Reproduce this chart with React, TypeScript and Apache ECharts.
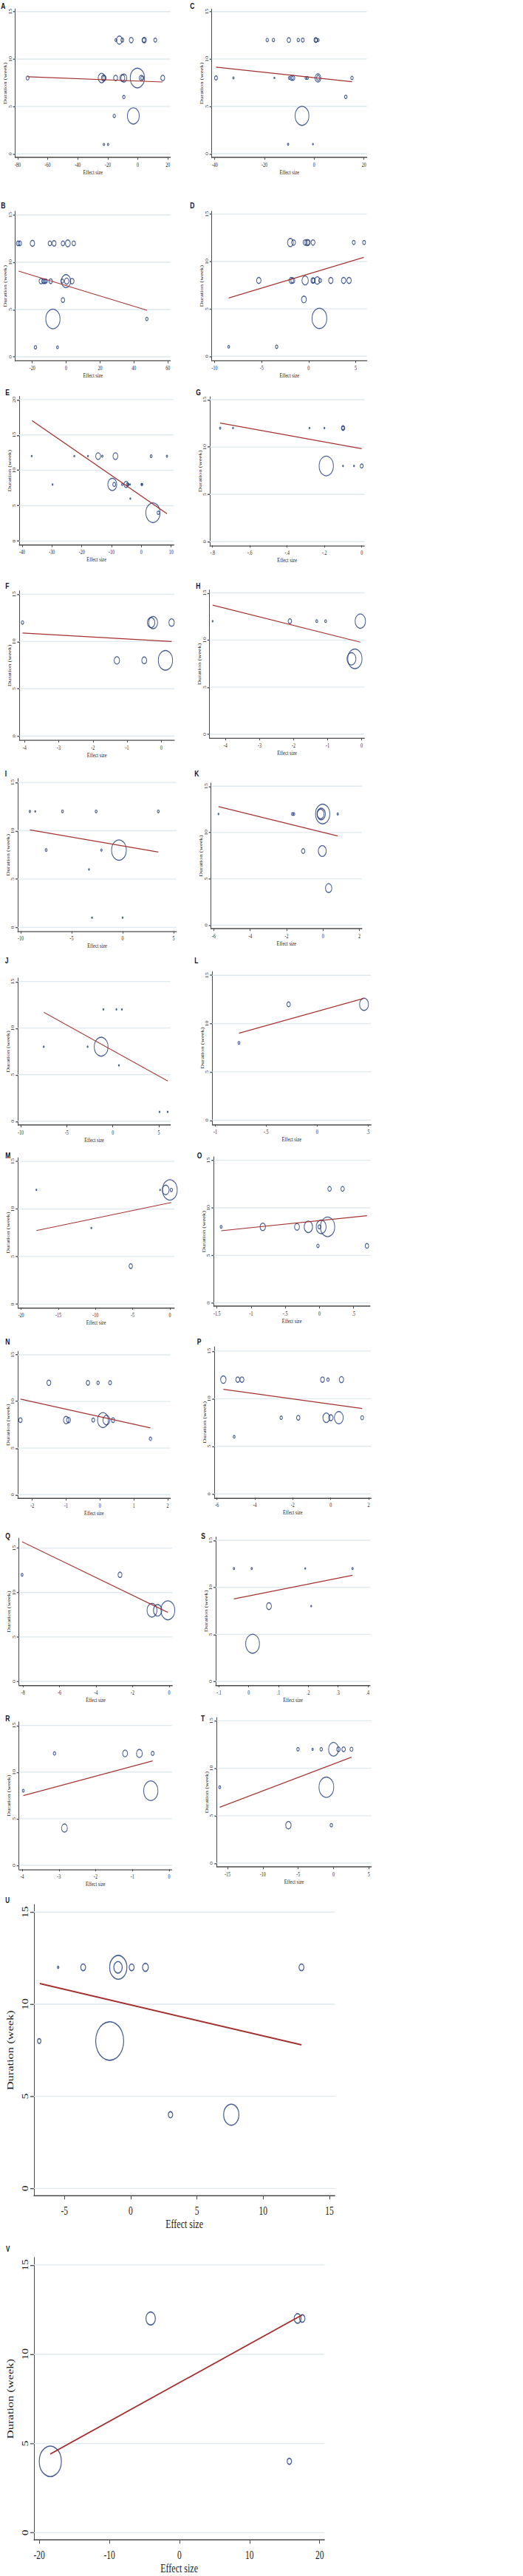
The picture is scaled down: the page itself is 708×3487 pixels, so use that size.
import React, { useEffect, useRef } from "react";
import * as echarts from "echarts";

// The source figure is stretched vertically; we reproduce that with a CSS scaleY.
const S = 1.37;
const PAGE_W = 708;
const PAGE_H = 3487;

// ---------------- data ----------------
const durationTicks = [0, 5, 10, 15];
const durationTicksE = [0, 5, 10, 15, 20];

// A
const aEffect = [-14.6, -12.3, -10.3, -4.4, 3.9, 4.4, 11.6, -73.4, -24.1, -22.8, -22.3, -14.8, -10.3, -9.3, -0.3, 2.3, 3.0, 16.6, -9.3, -15.7, -3.0, -22.6, -19.8];
const aDuration = [12, 12, 12, 12, 12, 12, 12, 8, 8, 8, 8, 8, 8, 8, 8, 8, 8, 8, 6, 4, 4, 1, 1];
const aWeight = [4, 12, 6, 8, 7, 8, 6, 6, 14, 9, 7, 8, 10, 12, 29, 8, 6, 8, 5, 5, 24, 3, 3];
const aFit = [[-73.4, 8.13], [16.4, 7.58]];
const aXTicks = [-80, -60, -40, -20, 0, 20];

// C
const cEffect = [-18.9, -16.4, -10.2, -6.4, -4.6, 0.6, 0.8, 1.6, -39.5, -32.5, -16.0, -10.0, -9.1, -8.5, -3.3, -2.7, 1.5, 1.6, 15.2, 12.7, -4.9, -10.5, -0.5];
const cDuration = [12, 12, 12, 12, 12, 12, 12, 12, 8, 8, 8, 8, 8, 8, 8, 8, 8, 8, 8, 6, 4, 1, 1];
const cWeight = [5, 5, 7, 5, 6, 7, 6, 4, 6, 3, 2, 4, 7, 7, 4, 4, 12, 7, 5, 5, 28, 3, 2];
const cFit = [[-39.5, 9.14], [15.2, 7.6]];
const cXTicks = [-40, -20, 0, 20];

// B
const bEffect = [-28.3, -27.3, -19.9, -9.6, -7.1, -1.9, 1.0, 4.5, -14.8, -13.4, -12.6, -11.9, -9.1, -2.3, -0.1, 0.3, 3.5, -1.9, -7.8, 47.6, -18.1, -5.1];
const bDuration = [12, 12, 12, 12, 12, 12, 12, 12, 8, 8, 8, 8, 8, 8, 8, 8, 8, 6, 4, 4, 1, 1];
const bWeight = [7, 7, 9, 7, 8, 7, 10, 7, 8, 7, 7, 6, 7, 6, 19, 9, 8, 7, 29, 5, 5, 4];
const bFit = [[-28.0, 9.06], [47.7, 4.92]];
const bXTicks = [-20, 0, 20, 40, 60];

// D
const dEffect = [-1.94, -1.6, -0.37, -0.16, -0.03, 0.47, 4.8, 5.9, -5.3, -1.84, -1.68, -0.37, 0.45, 0.52, 0.92, 1.23, 2.36, 3.72, 4.3, -0.5, 1.15, -8.5, -3.4];
const dDuration = [12, 12, 12, 12, 12, 12, 12, 12, 8, 8, 8, 8, 8, 8, 8, 8, 8, 8, 8, 6, 4, 1, 1];
const dWeight = [12, 8, 8, 9, 8, 8, 6, 6, 9, 9, 8, 13, 8, 7, 11, 6, 9, 9, 9, 10, 30, 4, 5];
const dFit = [[-8.5, 6.15], [5.87, 10.44]];
const dXTicks = [-10, -5, 0, 5];

// E
const eEffect = [-36.8, -22.5, -17.9, -14.5, -13.1, -8.7, 3.3, 8.6, -29.8, -9.75, -9.1, -6.4, -5.1, -4.7, -4.4, -3.8, 0.1, 0.25, -3.7, 3.9, 5.7];
const eDuration = [12, 12, 12, 12, 12, 12, 12, 12, 8, 8, 8, 8, 8, 8, 8, 8, 8, 8, 6, 4, 4];
const eWeight = [2, 2, 2, 10, 3, 10, 4, 3, 2, 18, 6, 3, 9, 4, 3, 2, 3, 3, 2, 29, 5];
const eFit = [[-36.7, 17.03], [8.6, 3.86]];
const eXTicks = [-40, -30, -20, -10, 0, 10];

// G
const gEffect = [-0.759, -0.69, -0.28, -0.2, -0.1, -0.1, -0.19, -0.1, -0.041, 0.0];
const gDuration = [12, 12, 12, 12, 12, 12, 8, 8, 8, 8];
const gWeight = [3, 2, 2, 2, 7, 5, 29, 2, 2, 6];
const gFit = [[-0.759, 12.53], [0.0, 9.82]];
const gXTicks = [-0.8, -0.6, -0.4, -0.2, 0];

// F
const fEffect = [-4.06, -0.3, -0.24, 0.3, -1.3, -0.5, 0.12];
const fDuration = [12, 12, 12, 12, 8, 8, 8];
const fWeight = [5, 15, 18, 11, 11, 10, 29];
const fFit = [[-4.06, 10.9], [0.3, 10.0]];
const fXTicks = [-4, -3, -2, -1, 0];

// H
const hEffect = [-4.38, -2.11, -1.32, -1.06, -0.04, -0.3, -0.2];
const hDuration = [12, 12, 12, 12, 12, 8, 8];
const hWeight = [2, 7, 4, 4, 21, 18, 29];
const hFit = [[-4.38, 13.7], [-0.04, 9.77]];
const hXTicks = [-4, -3, -2, -1, 0];

// I
const iEffect = [-9.1, -8.57, -5.9, -2.6, 3.5, -7.5, -2.08, -0.36, -3.3, -3.0, 0.0];
const iDuration = [12, 12, 12, 12, 12, 8, 8, 8, 6, 1, 1];
const iWeight = [3, 2, 4, 4, 4, 4, 3, 30, 2, 2, 2];
const iFit = [[-9.1, 10.09], [3.5, 7.8]];
const iXTicks = [-10, -5, 0, 5];

// K
const kEffect = [-5.74, -1.68, -1.6, -0.02, -0.1, -0.13, 0.81, -1.09, -0.04, 0.31];
const kDuration = [12, 12, 12, 12, 12, 12, 12, 8, 8, 4];
const kWeight = [2, 4, 4, 29, 17, 14, 3, 7, 16, 13];
const kFit = [[-5.74, 12.79], [0.81, 9.62]];
const kXTicks = [-6, -4, -2, 0, 2];

// J
const jEffect = [-1.02, 0.4, 0.99, -7.49, -2.73, -1.26, 0.67, 5.08, 5.96];
const jDuration = [12, 12, 12, 8, 8, 8, 6, 1, 1];
const jWeight = [2, 2, 2, 2, 2, 28, 2, 2, 2];
const jFit = [[-7.49, 11.7], [5.96, 4.32]];
const jXTicks = [-10, -5, 0, 5];

// L
const lEffect = [-0.28, 0.461, -0.768];
const lDuration = [12, 12, 8];
const lWeight = [7, 18, 4];
const lFit = [[-0.768, 9.0], [0.461, 12.62]];
const lXTicks = [-1, -0.5, 0, 0.5];

// M
const mEffect = [-17.95, -1.32, -0.56, 0.0, 0.2, -10.56, -5.26];
const mDuration = [12, 12, 12, 12, 12, 8, 4];
const mWeight = [2, 1, 14, 30, 5, 2, 7];
const mFit = [[-17.95, 7.73], [0.2, 10.68]];
const mXTicks = [-20, -15, -10, -5, 0];

// O
const oEffect = [0.148, 0.339, -1.438, -0.829, -0.328, -0.162, 0.0, 0.025, 0.119, -0.022, 0.695];
const oDuration = [12, 12, 8, 8, 8, 8, 8, 8, 8, 6, 6];
const oWeight = [7, 7, 4, 11, 10, 17, 6, 20, 29, 5, 7];
const oFit = [[-1.438, 7.59], [0.695, 9.17]];
const oXTicks = [-1.5, -1, -0.5, 0, 0.5];

// N
const nEffect = [-1.51, -0.356, -0.058, 0.298, -2.35, -1.0, -0.93, -0.2, 0.087, 0.189, 0.385, 1.49];
const nDuration = [12, 12, 12, 12, 8, 8, 8, 8, 8, 8, 8, 6];
const nWeight = [8, 7, 5, 6, 7, 11, 8, 6, 22, 14, 7, 5];
const nFit = [[-2.35, 10.25], [1.49, 7.16]];
const nXTicks = [-2, -1, 0, 1, 2];

// P
const pEffect = [-5.66, -4.9, -4.68, -0.43, -0.14, 0.57, -2.61, -1.71, -0.23, 0.01, 0.43, 1.66, -5.09];
const pDuration = [12, 12, 12, 12, 12, 12, 8, 8, 8, 8, 8, 8, 6];
const pWeight = [11, 8, 8, 8, 5, 9, 5, 7, 14, 9, 18, 6, 4];
const pFit = [[-5.66, 10.98], [1.66, 8.96]];
const pXTicks = [-6, -4, -2, 0, 2];

// Q
const qEffect = [-8.05, -2.69, -0.94, -0.63, -0.07];
const qDuration = [12, 12, 8, 8, 8];
const qWeight = [4, 8, 20, 17, 28];
const qFit = [[-8.05, 15.72], [-0.07, 7.76]];
const qXTicks = [-8, -6, -4, -2, 0];

// S
const sEffect = [-0.0497, 0.01, 0.19, 0.349, 0.068, 0.21, 0.013];
const sDuration = [12, 12, 12, 12, 8, 8, 4];
const sWeight = [3, 3, 2, 3, 10, 2, 28];
const sFit = [[-0.05, 8.77], [0.349, 11.29]];
const sXTicks = [-0.1, 0, 0.1, 0.2, 0.3, 0.4];

// R
const rEffect = [-3.12, -1.2, -0.81, -0.45, -3.97, -0.5, -2.85];
const rDuration = [12, 12, 12, 12, 8, 8, 4];
const rWeight = [5, 10, 12, 6, 4, 29, 12];
const rFit = [[-3.97, 7.47], [-0.45, 11.2]];
const rXTicks = [-4, -3, -2, -1, 0];

// T
const tEffect = [-5.02, -2.96, -1.74, 0.0, 0.7, 1.43, 2.54, -16.1, -1.01, -6.38, -0.31];
const tDuration = [12, 12, 12, 12, 12, 12, 12, 8, 8, 4, 4];
const tWeight = [5, 3, 5, 20, 7, 7, 6, 4, 30, 11, 5];
const tFit = [[-16.1, 5.89], [2.54, 11.17]];
const tXTicks = [-15, -10, -5, 0, 5];

// U
const uEffect = [-5.48, -3.59, -0.96, -0.94, 0.07, 1.11, 12.89, -6.91, -1.59, 3.0, 7.59];
const uDuration = [12, 12, 12, 12, 12, 12, 12, 8, 8, 4, 4];
const uWeight = [3, 10, 17, 35, 10, 12, 10, 7, 57, 9, 31];
const uFit = [[-6.87, 11.12], [12.89, 7.79]];
const uXTicks = [-5, 0, 5, 10, 15];

// V
const vEffect = [-4.11, 16.86, 17.53, -18.43, 15.68];
const vDuration = [12, 12, 12, 4, 4];
const vWeight = [19, 14, 11, 45, 9];
const vFit = [[-18.43, 4.41], [17.46, 12.19]];
const vXTicks = [-20, -10, 0, 10, 20];

// ---------------- layout (page px) ----------------
type Panel = {
  id: string;
  effect: number[];
  duration: number[];
  weight: number[];
  fit: number[][];
  xTicks: number[];
  yTicks: number[];
  box: number[]; // left, top, right, bottom (page px)
  xr: number[];
  yr: number[];
  tag: number[];
  big?: boolean;
};

const panels: Panel[] = [
  { id: "A", effect: aEffect, duration: aDuration, weight: aWeight, fit: aFit, xTicks: aXTicks, yTicks: durationTicks, box: [20.7, 12.3, 230.7, 213.3], xr: [-81.6, 21.7], yr: [-0.39, 15.27], tag: [1.3, 2.7] },
  { id: "C", effect: cEffect, duration: cDuration, weight: cWeight, fit: cFit, xTicks: cXTicks, yTicks: durationTicks, box: [286.7, 12.3, 496.7, 213.3], xr: [-41.2, 21.2], yr: [-0.41, 15.27], tag: [257.3, 2.7] },
  { id: "B", effect: bEffect, duration: bDuration, weight: bWeight, fit: bFit, xTicks: bXTicks, yTicks: durationTicks, box: [20.7, 286, 230.7, 488.7], xr: [-30.0, 61.5], yr: [-0.45, 15.39], tag: [1.3, 273.3] },
  { id: "D", effect: dEffect, duration: dDuration, weight: dWeight, fit: dFit, xTicks: dXTicks, yTicks: durationTicks, box: [286.7, 286, 496.7, 488.3], xr: [-10.3, 6.2], yr: [-0.47, 15.3], tag: [257.3, 273.3] },
  { id: "E", effect: eEffect, duration: eDuration, weight: eWeight, fit: eFit, xTicks: eXTicks, yTicks: durationTicksE, box: [26, 536.7, 235.3, 737.7], xr: [-41, 10.9], yr: [-0.56, 20.44], tag: [7.3, 525.7] },
  { id: "G", effect: gEffect, duration: gDuration, weight: gWeight, fit: gFit, xTicks: gXTicks, yTicks: durationTicks, box: [284, 537.3, 493.3, 738.3], xr: [-0.8145, 0.0145], yr: [-0.39, 15.29], tag: [265.3, 525.7] },
  { id: "F", effect: fEffect, duration: fDuration, weight: fWeight, fit: fFit, xTicks: fXTicks, yTicks: durationTicks, box: [26.3, 800, 236, 1002], xr: [-4.15, 0.38], yr: [-0.45, 15.34], tag: [7.3, 788] },
  { id: "H", effect: hEffect, duration: hDuration, weight: hWeight, fit: hFit, xTicks: hXTicks, yTicks: durationTicks, box: [283.7, 798.7, 493.3, 999.3], xr: [-4.47, 0.08], yr: [-0.42, 15.3], tag: [265.3, 788] },
  { id: "I", effect: iEffect, duration: iDuration, weight: iWeight, fit: iFit, xTicks: iXTicks, yTicks: durationTicks, box: [24, 1054, 239, 1260.7], xr: [-10.29, 5.29], yr: [-0.41, 15.39], tag: [6.7, 1042.3] },
  { id: "K", effect: kEffect, duration: kDuration, weight: kWeight, fit: kFit, xTicks: kXTicks, yTicks: durationTicks, box: [285.7, 1060, 490, 1257.3], xr: [-6.15, 2.14], yr: [-0.4, 15.34], tag: [263.3, 1042.3] },
  { id: "J", effect: jEffect, duration: jDuration, weight: jWeight, fit: jFit, xTicks: jXTicks, yTicks: durationTicks, box: [24.3, 1324, 230.7, 1523], xr: [-10.29, 6.26], yr: [-0.42, 15.37], tag: [6.7, 1295] },
  { id: "L", effect: lEffect, duration: lDuration, weight: lWeight, fit: lFit, xTicks: lXTicks, yTicks: durationTicks, box: [287.3, 1315.3, 502.3, 1522], xr: [-1.03, 0.53], yr: [-0.44, 15.38], tag: [263.3, 1295] },
  { id: "M", effect: mEffect, duration: mDuration, weight: mWeight, fit: mFit, xTicks: mXTicks, yTicks: durationTicks, box: [24.3, 1567.3, 236, 1770], xr: [-20.43, 0.6], yr: [-0.36, 15.37], tag: [7.3, 1559] },
  { id: "O", effect: oEffect, duration: oDuration, weight: oWeight, fit: oFit, xTicks: oXTicks, yTicks: durationTicks, box: [289.3, 1566, 501, 1768.3], xr: [-1.547, 0.741], yr: [-0.36, 15.36], tag: [266.7, 1559] },
  { id: "N", effect: nEffect, duration: nDuration, weight: nWeight, fit: nFit, xTicks: nXTicks, yTicks: durationTicks, box: [24, 1829.3, 230.7, 2028.3], xr: [-2.43, 2.08], yr: [-0.4, 15.37], tag: [7.3, 1810.7] },
  { id: "P", effect: pEffect, duration: pDuration, weight: pWeight, fit: pFit, xTicks: pXTicks, yTicks: durationTicks, box: [290.3, 1823.3, 502.3, 2027.3], xr: [-6.13, 2.13], yr: [-0.39, 15.43], tag: [266.7, 1810.7] },
  { id: "Q", effect: qEffect, duration: qDuration, weight: qWeight, fit: qFit, xTicks: qXTicks, yTicks: durationTicks, box: [25.7, 2082.3, 233.3, 2281], xr: [-8.22, 0.175], yr: [-0.42, 16.11], tag: [7.3, 2074.3] },
  { id: "S", effect: sEffect, duration: sDuration, weight: sWeight, fit: sFit, xTicks: sXTicks, yTicks: durationTicks, box: [292, 2080.7, 501, 2281], xr: [-0.111, 0.408], yr: [-0.39, 15.34], tag: [272.3, 2074.3] },
  { id: "R", effect: rEffect, duration: rDuration, weight: rWeight, fit: rFit, xTicks: rXTicks, yTicks: durationTicks, box: [25.7, 2331, 232.7, 2530.3], xr: [-4.087, 0.074], yr: [-0.42, 15.37], tag: [7.3, 2321] },
  { id: "T", effect: tEffect, duration: tDuration, weight: tWeight, fit: tFit, xTicks: tXTicks, yTicks: durationTicks, box: [293.3, 2325, 502.7, 2527.3], xr: [-16.53, 5.35], yr: [-0.41, 15.34], tag: [272, 2321] },
  { id: "U", effect: uEffect, duration: uDuration, weight: uWeight, fit: uFit, xTicks: uXTicks, yTicks: durationTicks, box: [44.3, 2578.3, 453.3, 2972.3], xr: [-7.31, 15.41], yr: [-0.4, 15.4], tag: [7.3, 2568.3], big: true },
  { id: "V", effect: vEffect, duration: vDuration, weight: vWeight, fit: vFit, xTicks: vXTicks, yTicks: durationTicks, box: [42.7, 3056, 439.3, 3438.3], xr: [-20.77, 20.7], yr: [-0.41, 15.41], tag: [8, 3040], big: true },
];

// ---------------- styles ----------------
const SERIF = '"Liberation Serif", "Times New Roman", serif';
const SANS = '"Liberation Sans Narrow", "Liberation Sans", Arial, sans-serif';
const NAVY = "#1a3677";
const MAROON = "#a3302e";
const AXIS = "#4a4a4a";
const GRIDC = "#dfe9ee";
const TEXT = "#222222";

const small = { tickFont: 6, nameFont: 6.3, tickLen: 2.2, xMargin: 4.5, xNameGap: 11, yMargin: 3.5, yNameGap: 10, ring: 1.0, fitW: 0.9, tagFont: 8.5 };
const big = { tickFont: 11.5, nameFont: 12, tickLen: 3.6, xMargin: 9, xNameGap: 21, yMargin: 6, yNameGap: 19, ring: 1.2, fitW: 1.4, tagFont: 8 };

const fmt = (v: number) => {
  const s = String(Math.round(v * 1000) / 1000);
  return s.replace(/^(-?)0\./, "$1.");
};

function buildOption() {
  const grid: any[] = [];
  const xAxis: any[] = [];
  const yAxis: any[] = [];
  const series: any[] = [];
  const graphic: any[] = [];

  panels.forEach((p, i) => {
    const st = p.big ? big : small;
    const [l, t, r, b] = p.box;
    grid.push({ left: l, top: t / S, width: r - l, height: (b - t) / S, containLabel: false });
    xAxis.push({
      type: "value",
      gridIndex: i,
      min: p.xr[0],
      max: p.xr[1],
      name: "Effect size",
      nameLocation: "middle",
      nameGap: st.xNameGap,
      nameTextStyle: { fontFamily: SERIF, fontSize: st.nameFont, color: TEXT },
      axisLine: { show: true, onZero: false, lineStyle: { color: AXIS, width: 1 } },
      axisTick: { show: true, customValues: p.xTicks, length: st.tickLen, lineStyle: { color: AXIS, width: 1 } },
      axisLabel: { show: true, customValues: p.xTicks, formatter: fmt, fontFamily: SERIF, fontSize: st.tickFont, color: TEXT, margin: st.xMargin },
      splitLine: { show: false },
    });
    yAxis.push({
      type: "value",
      gridIndex: i,
      min: p.yr[0],
      max: p.yr[1],
      name: "Duration (week)",
      nameLocation: "middle",
      nameGap: st.yNameGap,
      nameRotate: 90,
      nameTextStyle: { fontFamily: SERIF, fontSize: st.nameFont, color: TEXT },
      axisLine: { show: true, onZero: false, lineStyle: { color: AXIS, width: 1 } },
      axisTick: { show: true, customValues: p.yTicks, length: st.tickLen * S, lineStyle: { color: AXIS, width: 1 } },
      axisLabel: { show: true, customValues: p.yTicks, formatter: fmt, rotate: 90, fontFamily: SERIF, fontSize: st.tickFont, color: TEXT, margin: st.yMargin },
      splitLine: { show: false },
    });
    p.yTicks.forEach((v) => {
      series.push({
        type: "line",
        xAxisIndex: i,
        yAxisIndex: i,
        data: [[p.xr[0], v], [p.xr[1], v]],
        symbol: "none",
        silent: true,
        lineStyle: { color: GRIDC, width: 1 },
        z: 1,
      });
    });
    series.push({
      type: "scatter",
      xAxisIndex: i,
      yAxisIndex: i,
      data: p.effect.map((x, k) => [x, p.duration[k], p.weight[k]]),
      symbol: "circle",
      symbolSize: (val: number[]) => Math.max(1.2, (val[2] * 2) / 3),
      itemStyle: { color: "transparent", borderColor: NAVY, borderWidth: st.ring },
      silent: true,
      z: 3,
    });
    series.push({
      type: "line",
      xAxisIndex: i,
      yAxisIndex: i,
      data: p.fit,
      symbol: "none",
      silent: true,
      lineStyle: { color: MAROON, width: st.fitW },
      z: 4,
    });
    graphic.push({
      type: "text",
      x: p.tag[0],
      y: p.tag[1] / S - 1,
      style: { text: p.id, fill: "#111", font: `bold ${st.tagFont}px ${SANS}`, verticalAlign: "top", textVerticalAlign: "top" },
    });
  });

  return { animation: false, backgroundColor: "#ffffff", grid, xAxis, yAxis, series, graphic };
}

export default function App() {
  const ref = useRef<HTMLDivElement>(null);
  useEffect(() => {
    document.body.style.margin = "0";
    if (!ref.current) return;
    const chart = echarts.init(ref.current, undefined, { renderer: "svg" });
    chart.setOption(buildOption() as any);
    return () => chart.dispose();
  }, []);
  return (
    <div style={{ position: "absolute", left: 0, top: 0, width: PAGE_W, height: PAGE_H, background: "#fff", overflow: "hidden" }}>
      <div
        ref={ref}
        style={{ position: "absolute", left: 0, top: 0, width: PAGE_W, height: PAGE_H / S, transform: `scaleY(${S})`, transformOrigin: "0 0" }}
      />
    </div>
  );
}
